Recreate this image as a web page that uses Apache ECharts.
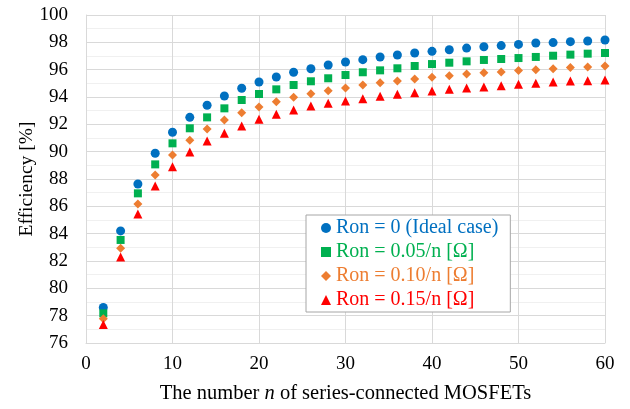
<!DOCTYPE html>
<html><head><meta charset="utf-8">
<script src="https://cdn.jsdelivr.net/npm/echarts@6/dist/echarts.min.js"></script>
<style>html,body{margin:0;padding:0;background:#fff}#c{width:630px;height:409px}</style>
</head><body><div id="c"></div>
<script>
const nValues = [2,4,6,8,10,12,14,16,18,20,22,24,26,28,30,32,34,36,38,40,42,44,46,48,50,52,54,56,58,60];
const seriesNames = ['Ron = 0 (Ideal case)','Ron = 0.05/n [Ω]','Ron = 0.10/n [Ω]','Ron = 0.15/n [Ω]'];
const ron0 = [78.6,84.2,87.63,89.88,91.42,92.51,93.4,94.07,94.64,95.1,95.46,95.81,96.07,96.34,96.56,96.73,96.93,97.07,97.22,97.34,97.46,97.58,97.68,97.76,97.85,97.95,97.98,98.05,98.1,98.17];
const ron005 = [78.17,83.54,86.95,89.07,90.61,91.71,92.51,93.17,93.78,94.22,94.56,94.88,95.15,95.37,95.61,95.81,95.95,96.1,96.27,96.41,96.51,96.61,96.71,96.78,96.85,96.93,97.02,97.1,97.17,97.22];
const ron010 = [77.78,82.93,86.17,88.29,89.76,90.83,91.66,92.32,92.85,93.27,93.66,93.98,94.24,94.46,94.66,94.88,95.05,95.17,95.32,95.44,95.56,95.69,95.78,95.83,95.93,96.0,96.07,96.15,96.2,96.27];
const ron015 = [77.35,82.3,85.44,87.49,88.9,89.98,90.78,91.35,91.88,92.37,92.73,93.05,93.34,93.54,93.71,93.88,94.05,94.2,94.32,94.44,94.56,94.65,94.73,94.83,94.93,95.0,95.1,95.17,95.19,95.24];
const colors = ['#0070c0','#00b050','#ed7d31','#ff0000'];
const symbols = ['circle','rect','diamond','triangle'];
const sizes = [9,8,9,9];
const allData = [ron0, ron005, ron010, ron015];
const font = '"Liberation Serif","Times New Roman",serif';

const chart = echarts.init(document.getElementById('c'));
chart.setOption({
  animation:false,
  grid:{left:86,right:25,top:15,bottom:66},
  xAxis:{type:'value',min:0,max:60,interval:10,
    axisLine:{show:true,lineStyle:{color:'#d9d9d9'}},axisTick:{show:false},
    axisLabel:{color:'#000',fontFamily:font,fontSize:19,margin:12},
    splitLine:{show:true,lineStyle:{color:'#d9d9d9'}},
    name:'{a|The number }{i|n}{a| of series-connected MOSFETs}',nameLocation:'middle',nameGap:40,
    nameMoveOverlap:false,
    nameTextStyle:{rich:{a:{fontFamily:font,fontSize:20.5,color:'#000'},i:{fontFamily:font,fontSize:20.5,fontStyle:'italic',color:'#000'}}}
  },
  yAxis:{type:'value',min:76,max:100,interval:2,
    axisLine:{show:true,lineStyle:{color:'#d9d9d9'}},axisTick:{show:false},
    axisLabel:{color:'#000',fontFamily:font,fontSize:19,margin:18},
    splitLine:{show:true,lineStyle:{color:'#d9d9d9'}},
    minorTick:{show:false,splitNumber:2},
    minorSplitLine:{show:true,lineStyle:{color:'#f0f0f0'}},
    name:'Efficiency [%]',nameLocation:'middle',nameGap:49,nameRotate:90,
    nameMoveOverlap:false,
    nameTextStyle:{fontFamily:font,fontSize:19.5,color:'#000'}
  },
  legend:{orient:'vertical',left:306,top:215,
    backgroundColor:'#fff',borderColor:'#a6a6a6',borderWidth:1,
    padding:[3,12,2,15],itemGap:4,itemWidth:10,itemHeight:10,
    textStyle:{fontFamily:font,fontSize:20},
    data:seriesNames.map((n,i)=>({name:n,textStyle:{color:colors[i]}}))
  },
  series: allData.map((d,i)=>({
    name:seriesNames[i],type:'scatter',symbol:symbols[i],symbolSize:sizes[i],
    itemStyle:{color:colors[i],opacity:1},
    data:nValues.map((n,k)=>[n,d[k]])
  }))
});
</script></body></html>
